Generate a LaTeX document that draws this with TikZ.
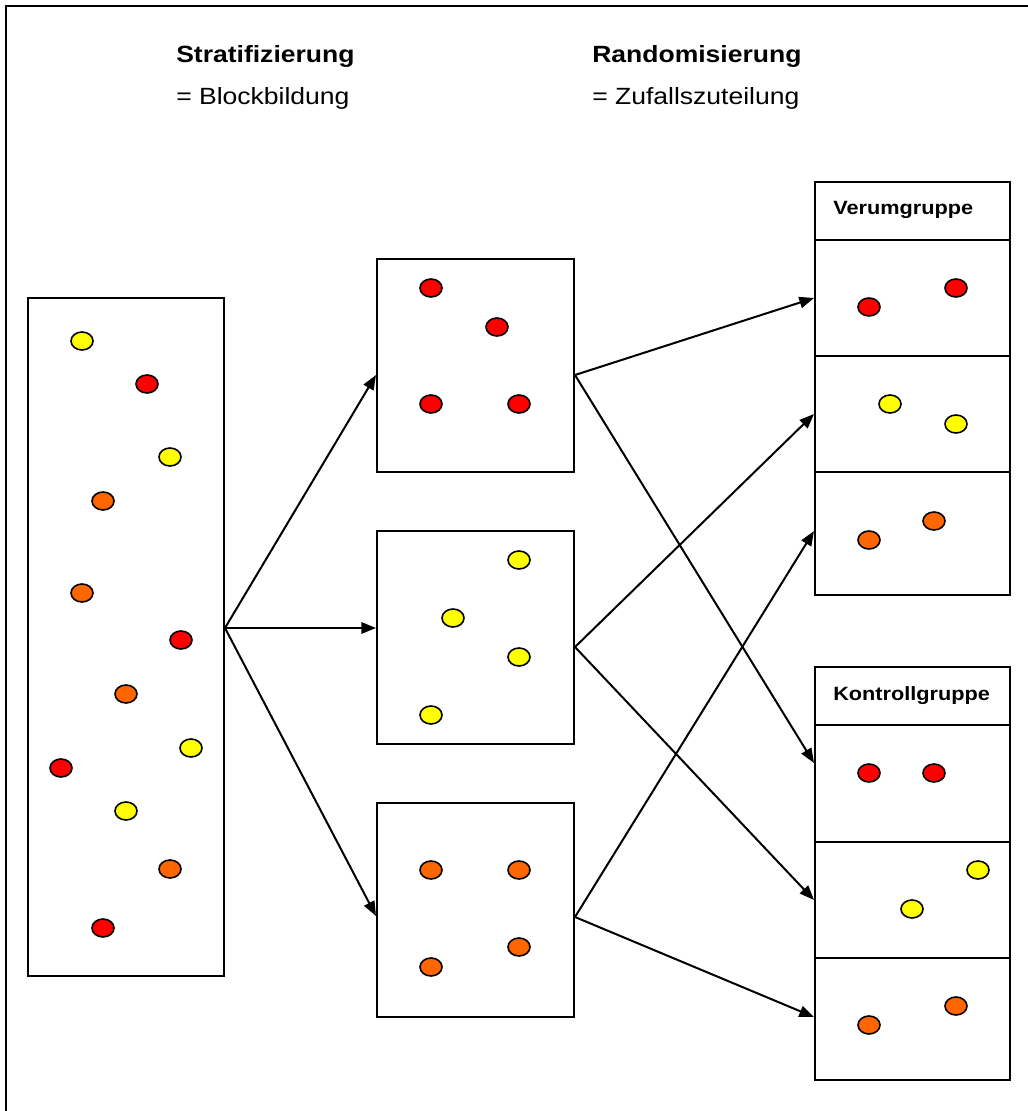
\documentclass[tikz,border=0pt]{standalone}
\usepackage{fontspec}
\setmainfont{Liberation Sans}[FakeStretch=1.13]
\usetikzlibrary{arrows.meta,fit}
\definecolor{dred}{RGB}{255,0,0}
\definecolor{dyel}{RGB}{255,255,0}
\definecolor{dora}{RGB}{255,102,0}
\begin{document}
\begin{tikzpicture}[x=0.75pt,y=-0.75pt,
  box/.style={draw, inner sep=0pt, line width=1.5pt},
  conn/.style={-{Triangle[length=11pt,width=8.5pt]}, line width=1.5pt},
  dotst/.style={draw, line width=1.2pt},
  headtxt/.style={anchor=base west, inner sep=0pt, font=\fontsize{17.6}{21}\selectfont},
  grptxt/.style={anchor=base west, inner sep=0pt, font=\fontsize{14.4}{17}\selectfont\bfseries}]
\useasboundingbox (0,0) rectangle (1028,1111);
\draw[line width=1.7pt] (1028,6) -- (6,6) -- (6,1111);

% headings
\node[headtxt, font=\fontsize{17.6}{21}\selectfont\bfseries] (t1) at (176,62) {Stratifizierung};
\node[headtxt] (t2) at (176,104) {= Blockbildung};
\node[headtxt, font=\fontsize{17.6}{21}\selectfont\bfseries] (t3) at (592,62) {Randomisierung};
\node[headtxt] (t4) at (592,104) {= Zufallszuteilung};

% boxes
\node[box, fit={(28,298) (224,976)}] (L) {};
\node[box, fit={(377,259) (574,472)}] (M1) {};
\node[box, fit={(377,531) (574,744)}] (M2) {};
\node[box, fit={(377,803) (574,1017)}] (M3) {};

\node[box, fit={(815,182) (1010,240)}] (VH) {};
\node[box, fit={(815,240) (1010,356)}] (V1) {};
\node[box, fit={(815,356) (1010,472)}] (V2) {};
\node[box, fit={(815,472) (1010,595)}] (V3) {};
\node[grptxt] (vt) at (833,214) {Verumgruppe};

\node[box, fit={(815,667) (1010,725)}] (KH) {};
\node[box, fit={(815,725) (1010,842)}] (K1) {};
\node[box, fit={(815,842) (1010,958)}] (K2) {};
\node[box, fit={(815,958) (1010,1080)}] (K3) {};
\node[grptxt] (kt) at (833,700) {Kontrollgruppe};

% dots
\foreach \x/\y in {147/384,181/640,61/768,103/928,431/288,497/327,431/404,519/404,869/307,956/288,869/773,934/773}
  \draw[dotst, fill=dred] (\x,\y) ellipse [x radius=8.25pt, y radius=6.75pt];
\foreach \x/\y in {82/341,170/457,191/748,126/811,519/560,453/618,519/657,431/715,890/404,956/424,978/870,912/909}
  \draw[dotst, fill=dyel] (\x,\y) ellipse [x radius=8.25pt, y radius=6.75pt];
\foreach \x/\y in {103/501,82/593,126/694,170/869,431/870,519/870,519/947,431/967,869/540,934/521,869/1025,956/1006}
  \draw[dotst, fill=dora] (\x,\y) ellipse [x radius=8.25pt, y radius=6.75pt];

% connectors
\coordinate (lo) at (L.east |- 0,628);
\draw[conn] (lo) -- (M1.west |- 0,375);
\draw[conn] (lo) -- (M2.west |- 0,628);
\draw[conn] (lo) -- (M3.west |- 0,916);

\draw[conn] (M1.east |- 0,375) -- (V1.west |- 0,298);
\draw[conn] (M1.east |- 0,375) -- (K1.west |- 0,763);
\draw[conn] (M2.east |- 0,647) -- (V2.west |- 0,414);
\draw[conn] (M2.east |- 0,647) -- (K2.west |- 0,900);
\draw[conn] (M3.east |- 0,917) -- (V3.west |- 0,531);
\draw[conn] (M3.east |- 0,917) -- (K3.west |- 0,1017);
\end{tikzpicture}
\end{document}
